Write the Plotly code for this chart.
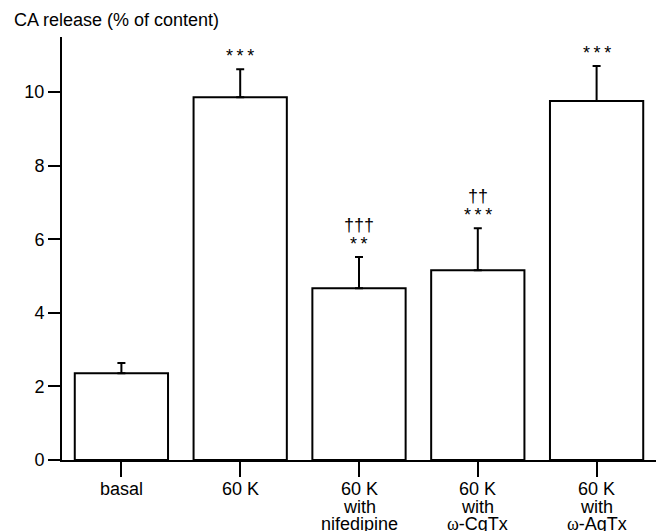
import plotly.graph_objects as go

# x tick labels, one list of lines per category
categories = [
    ["basal"],
    ["60 K"],
    ["60 K", "with", "nifedipine"],
    ["60 K", "with", "<span style='font-family:Liberation Serif'>ω</span>-CgTx"],
    ["60 K", "with", "<span style='font-family:Liberation Serif'>ω</span>-AgTx"],
]
values = [2.36, 9.86, 4.67, 5.16, 9.76]
errors = [0.28, 0.76, 0.85, 1.14, 0.95]
stars = ["", "***", "**", "***", "***"]
daggers = ["", "", "†††", "††", ""]
yticks = [0, 2, 4, 6, 8, 10]

x = list(range(len(categories)))

fig = go.Figure()
fig.add_trace(go.Bar(
    x=x, y=values, width=0.785,
    marker=dict(color="white", line=dict(color="black", width=2)),
    error_y=dict(type="data", array=errors, arrayminus=[0]*len(errors),
                 symmetric=False, color="black", thickness=2, width=4),
    showlegend=False, hoverinfo="skip",
))

font = dict(family="Liberation Sans, Arial, sans-serif", size=18, color="black")
ann = []
for i in x:
    top = values[i] + errors[i]
    if stars[i]:
        ann.append(dict(x=i, y=top, xref="x", yref="y", text="\u2009".join(stars[i]),
                        showarrow=False, yanchor="middle", yshift=13, font=font))
    if daggers[i]:
        ann.append(dict(x=i, y=top, xref="x", yref="y", text=daggers[i], showarrow=False,
                        yanchor="middle", yshift=32, font=font))
    for k, line in enumerate(categories[i]):
        ann.append(dict(x=i, y=0, xref="x", yref="paper", text=line, showarrow=False,
                        yanchor="middle", yshift=-29 - 17.5*k, font=font))
ann.append(dict(x=0, y=1, xref="paper", yref="paper", xanchor="left", yanchor="middle",
                text="CA release (% of content)", showarrow=False, font=font,
                xshift=-50, yshift=17))

fig.update_layout(
    width=658, height=531,
    margin=dict(l=62, r=2, t=37, b=71),
    paper_bgcolor="white", plot_bgcolor="white",
    font=font,
    annotations=ann,
    xaxis=dict(range=[-0.5, 4.5], tickmode="array", tickvals=x, showticklabels=False,
               showline=True, linecolor="black", linewidth=2, automargin=False,
               ticks="outside", ticklen=15, tickwidth=2, tickcolor="black",
               showgrid=False, zeroline=False),
    yaxis=dict(range=[0, 11.5], tickvals=yticks, automargin=False,
               showline=True, linecolor="black", linewidth=2,
               ticks="outside", ticklen=12, tickwidth=2, tickcolor="black",
               showgrid=False, zeroline=False, tickfont=font),
)

fig.write_html("out.html", config={"displayModeBar": False},
               post_script="document.body.style.margin='0';document.body.style.overflow='hidden';")
